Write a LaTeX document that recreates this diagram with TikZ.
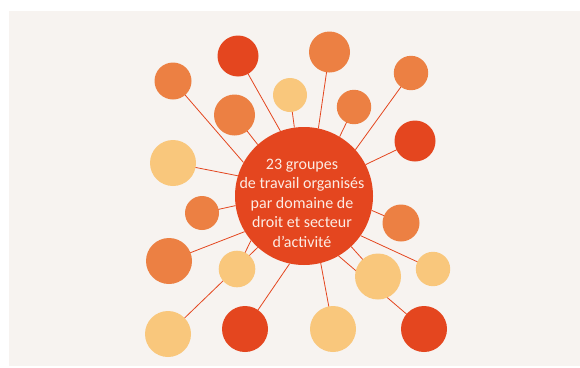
\documentclass[tikz,border=0pt]{standalone}
\usepackage{fontspec}
\setmainfont{Carlito}
\usetikzlibrary{backgrounds}
\definecolor{bgcol}{RGB}{247,243,240}
\definecolor{redc}{RGB}{228,70,31}
\definecolor{orac}{RGB}{236,128,67}
\definecolor{yelc}{RGB}{249,199,124}
\definecolor{txtc}{RGB}{252,236,228}
\tikzset{
  bub/.style={circle,inner sep=0pt,draw=none,minimum size=#1},
  rb/.style={bub=#1,fill=redc},
  ob/.style={bub=#1,fill=orac},
  yb/.style={bub=#1,fill=yelc},
  link/.style={draw=redc,line width=0.8pt},
  lbl/.style={text=txtc,align=center,font=\fontsize{16}{19.5}\selectfont,inner sep=0pt}
}
\begin{document}
\begin{tikzpicture}[x=1pt,y=-1pt]
\useasboundingbox (0,0) rectangle (580,367);
% central node
\node[rb=138pt] (c) at (304,196) {};
\node[lbl] (t) at (302,203) {23 groupes\\de travail organisés\\par domaine de\\droit et secteur\\d{\char"27}activité};
% outer bubbles
\node[ob=37pt] (o1) at (173,81) {};
\node[rb=41pt] (o2) at (238,56) {};
\node[yb=34pt] (o3) at (290,95) {};
\node[ob=41pt] (o4) at (329.5,52) {};
\node[ob=34.4pt] (o5) at (354,107) {};
\node[ob=34.4pt] (o6) at (411,73) {};
\node[ob=41pt] (o7) at (234.5,115) {};
\node[rb=41pt] (o8) at (415,141) {};
\node[yb=46pt] (o9) at (173,163) {};
\node[ob=34pt] (o10) at (202,213) {};
\node[ob=37pt] (o11) at (401,223) {};
\node[ob=46pt] (o12) at (169,261) {};
\node[yb=36.6pt] (o13) at (237,269) {};
\node[yb=46pt] (o14) at (378,276.5) {};
\node[yb=34.4pt] (o15) at (433,269) {};
\node[yb=46pt] (o16) at (168,334) {};
\node[rb=46pt] (o17) at (245,329) {};
\node[yb=46pt] (o18) at (333,329) {};
\node[rb=46pt] (o19) at (424,329) {};
% connectors behind the bubbles
\begin{scope}[on background layer]
\fill[bgcol] (9,11) rectangle (580,366);
\draw[link] (c.151) -- (o1.center);
\draw[link] (c.110) -- (o2.center);
\draw[link] (c.98) -- (o3.center);
\draw[link] (c.78.5) -- (o4.center);
\draw[link] (c.59) -- (o5.center);
\draw[link] (c.42) -- (o6.center);
\draw[link] (c.132) -- (o7.center);
\draw[link] (c.27) -- (o8.center);
\draw[link] (c.163) -- (o9.center);
\draw[link] (c.188) -- (o10.center);
\draw[link] (c.348) -- (o11.center);
\draw[link] (c.211) -- (o12.center);
\draw[link] (c.220) -- (o13.center);
\draw[link] (c.313) -- (o14.center);
\draw[link] (c.325) -- (o15.center);
\draw[link] (c.228) -- (o16.center);
\draw[link] (c.258) -- (o17.center);
\draw[link] (c.284) -- (o18.center);
\draw[link] (c.300) -- (o19.center);
\end{scope}
\end{tikzpicture}
\end{document}
